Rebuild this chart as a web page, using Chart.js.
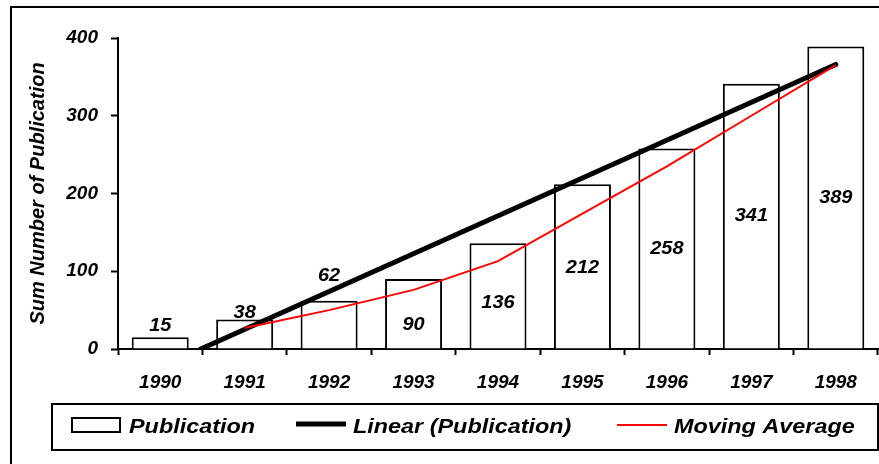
<!DOCTYPE html>
<html lang="en">
<head>
    <meta charset="UTF-8">
    <title>Sum Number of Publication</title>
    <script src="https://cdn.jsdelivr.net/npm/chart.js"></script>
    <style>
        body { margin: 0; background: #fff; }
        #wrap { width: 879px; height: 464px; }
    </style>
</head>
<body>
    <div id="wrap"><canvas id="pubChart" width="879" height="464"></canvas></div>
    <script>
        // data
        const years = ['1990', '1991', '1992', '1993', '1994', '1995', '1996', '1997', '1998'];
        const publications = [15, 38, 62, 90, 136, 212, 258, 341, 389];
        const movingAverage = [null, 27, 50, 76, 113, 174, 235, 300, 365];
        // linear trendline end points (x = year index)
        const trendPoints = [{ x: 0.48, y: 0 }, { x: 8, y: 366 }];
        const yTicks = [0, 100, 200, 300, 400];

        const FONT = '"Liberation Sans", Arial, sans-serif';

        // where Excel put the value labels (in axis units)
        const labelLevels = [30, 46, 94, 31, 59, 105, 129, 171, 194];

        // draw text stretched sideways, the original is a squeezed excel export
        function wideText(ctx, text, x, y, sx) {
            ctx.save();
            ctx.translate(x, y);
            ctx.scale(sx, 1);
            ctx.fillText(text, 0, 0);
            ctx.restore();
        }

        const decorPlugin = {
            id: 'decor',
            afterDatasetsDraw(chart) {
                const ctx = chart.ctx;
                const x = chart.scales.x, y = chart.scales.y;
                ctx.save();
                ctx.fillStyle = '#000';
                ctx.font = 'italic bold 19px ' + FONT;
                ctx.textAlign = 'center';
                ctx.textBaseline = 'middle';
                publications.forEach((v, i) => {
                    wideText(ctx, String(v), x.getPixelForValue(i), y.getPixelForValue(labelLevels[i]), 1.05);
                });
                ctx.restore();
            },
            afterDraw(chart) {
                const ctx = chart.ctx;
                const ds = chart.data.datasets;
                ctx.save();
                // outer frame
                ctx.strokeStyle = '#000';
                ctx.lineWidth = 2;
                ctx.strokeRect(11, 7, 1000, 1000);
                // legend box
                ctx.strokeRect(52, 404, 826, 46);
                ctx.font = 'italic bold 20px ' + FONT;
                ctx.textBaseline = 'alphabetic';
                ctx.fillStyle = '#000';
                // bar symbol
                ctx.lineWidth = 2;
                ctx.strokeRect(72, 418, 48, 14);
                wideText(ctx, ds[2].label, 129, 433, 1.17);
                // trend line symbol
                ctx.lineWidth = ds[1].borderWidth;
                ctx.strokeStyle = ds[1].borderColor;
                ctx.beginPath(); ctx.moveTo(296, 424); ctx.lineTo(346, 424); ctx.stroke();
                wideText(ctx, ds[1].label, 353, 433, 1.17);
                // moving average symbol
                ctx.lineWidth = ds[0].borderWidth;
                ctx.strokeStyle = ds[0].borderColor;
                ctx.beginPath(); ctx.moveTo(617, 425); ctx.lineTo(667, 425); ctx.stroke();
                wideText(ctx, ds[0].label, 674, 433, 1.17);
                ctx.restore();
            }
        };

        const ctx = document.getElementById('pubChart').getContext('2d');
        new Chart(ctx, {
            data: {
                labels: years,
                datasets: [
                    {
                        type: 'line',
                        label: 'Moving Average',
                        data: movingAverage,
                        borderColor: '#ff0000',
                        borderWidth: 2,
                        pointRadius: 0,
                        tension: 0,
                        order: 1
                    },
                    {
                        type: 'line',
                        label: 'Linear (Publication)',
                        data: trendPoints,
                        xAxisID: 'xl',
                        borderColor: '#000',
                        borderWidth: 5,
                        pointRadius: 0,
                        borderCapStyle: 'round',
                        order: 2
                    },
                    {
                        type: 'bar',
                        label: 'Publication',
                        data: publications,
                        backgroundColor: '#fff',
                        borderColor: '#000',
                        borderWidth: 2,
                        grouped: false,
                        barPercentage: 0.675,
                        categoryPercentage: 1,
                        order: 3
                    }
                ]
            },
            options: {
                responsive: false,
                animation: false,
                layout: { padding: { left: 0, right: 1, top: 38, bottom: 65 } },
                plugins: {
                    legend: { display: false },
                    tooltip: { enabled: false }
                },
                scales: {
                    x: {
                        type: 'category',
                        offset: true,
                        grid: { offset: true, drawOnChartArea: false, tickLength: 6, tickColor: '#000', tickWidth: 2 },
                        border: { color: '#000', width: 2 },
                        ticks: { color: '#000', padding: 16, font: { family: FONT, size: 19, weight: 'bold', style: 'italic' } },
                        afterFit: s => { s.height = 50; }
                    },
                    xl: {
                        type: 'linear',
                        display: false,
                        min: -0.5,
                        max: 8.5
                    },
                    y: {
                        min: 0,
                        max: 400,
                        afterBuildTicks: s => { s.ticks = yTicks.map(v => ({ value: v })); },
                        grid: { drawOnChartArea: false, tickLength: 7, tickColor: '#000', tickWidth: 2 },
                        border: { color: '#000', width: 2 },
                        ticks: { color: '#000', padding: 13, font: { family: FONT, size: 19, weight: 'bold', style: 'italic' } },
                        title: {
                            display: true,
                            text: 'Sum Number of Publication',
                            color: '#000',
                            padding: { top: 26, bottom: 0 },
                            font: { family: FONT, size: 20, weight: 'bold', style: 'italic' }
                        },
                        afterFit: s => { s.width = 118; }
                    }
                }
            },
            plugins: [decorPlugin]
        });
    </script>
</body>
</html>
